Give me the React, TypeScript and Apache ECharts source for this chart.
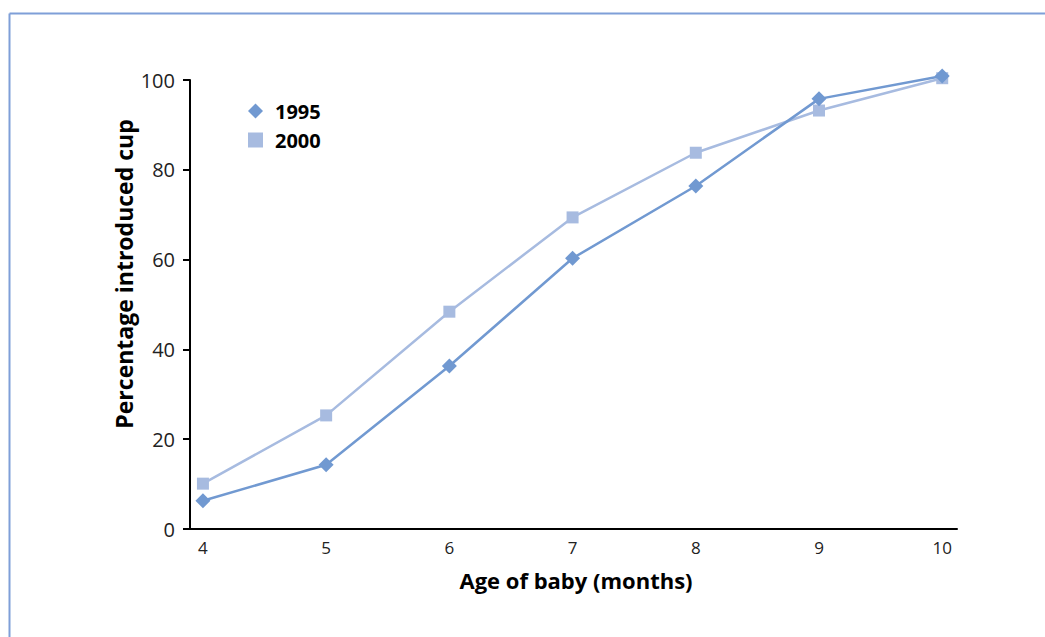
import React, { useEffect, useRef } from "react";
import * as echarts from "echarts";

const ages = [4, 5, 6, 7, 8, 9, 10];
const values1995 = [6.3, 14.3, 36.3, 60.3, 76.4, 95.8, 100.9];
const values2000 = [10.1, 25.3, 48.4, 69.4, 83.8, 93.2, 100.4];
const yTicks = [0, 20, 40, 60, 80, 100];
const seriesNames = ["1995", "2000"];
const xTitle = "Age of baby (months)";
const yTitle = "Percentage introduced cup";

const FONT = "'Open Sans', 'Noto Sans', sans-serif";
const C1995 = "#7199d1";
const C2000 = "#a7bbe0";
const FRAME = "#7f9fd8";

export default function App() {
  const ref = useRef<HTMLDivElement>(null);
  useEffect(() => {
    if (!ref.current) return;
    const chart = echarts.init(ref.current, null, { renderer: "svg" });
    chart.setOption({
      animation: false,
      backgroundColor: "#ffffff",
      textStyle: { fontFamily: FONT },
      grid: { left: 190, right: 88, top: 80, bottom: 108, containLabel: false },
      legend: {
        orient: "vertical",
        left: 248,
        top: 101,
        padding: 0,
        itemGap: 9,
        itemWidth: 15,
        itemHeight: 15,
        textStyle: {
          fontFamily: FONT,
          fontSize: 20,
          fontWeight: "bold",
          color: "#000",
          padding: [0, 0, 0, 7],
        },
        data: [
          { name: seriesNames[0], icon: "diamond" },
          { name: seriesNames[1], icon: "path://M2,2H12V12H2Z" },
        ],
      },
      xAxis: {
        type: "value",
        min: 3.895,
        max: 10.12,
        axisLine: { show: true, lineStyle: { color: "#000", width: 2 } },
        axisTick: { show: false },
        splitLine: { show: false },
        axisLabel: {
          customValues: ages,
          margin: 10,
          fontFamily: FONT,
          fontSize: 17,
          color: "#222",
        },
      },
      yAxis: {
        type: "value",
        min: 0,
        max: 100,
        interval: 20,
        axisLine: { show: true, lineStyle: { color: "#000", width: 2 } },
        axisTick: { show: true, length: 7, lineStyle: { color: "#000", width: 2 } },
        splitLine: { show: false },
        axisLabel: {
          customValues: yTicks,
          margin: 15,
          fontFamily: FONT,
          fontSize: 20,
          color: "#222",
        },
      },
      series: [
        {
          name: seriesNames[0],
          type: "line",
          clip: false,
          data: ages.map((a, i) => [a, values1995[i]]),
          symbol: "diamond",
          symbolSize: 15,
          itemStyle: { color: C1995 },
          lineStyle: { color: C1995, width: 2.5 },
          z: 3,
        },
        {
          name: seriesNames[1],
          type: "line",
          clip: false,
          data: ages.map((a, i) => [a, values2000[i]]),
          symbol: "rect",
          symbolSize: 12,
          itemStyle: { color: C2000 },
          lineStyle: { color: C2000, width: 2.5 },
          z: 2,
        },
      ],
      graphic: [
        {
          type: "line",
          shape: { x1: 9.5, y1: 13.5, x2: 1045, y2: 13.5 },
          style: { stroke: FRAME, lineWidth: 2 },
        },
        {
          type: "line",
          shape: { x1: 9.5, y1: 13.5, x2: 9.5, y2: 637 },
          style: { stroke: FRAME, lineWidth: 2 },
        },
        {
          type: "text",
          x: 576,
          y: 580,
          style: {
            text: xTitle,
            fontFamily: FONT,
            fontSize: 22,
            fontWeight: "bold",
            fill: "#000",
            align: "center",
            verticalAlign: "middle",
          },
        },
        {
          type: "text",
          x: 124,
          y: 274,
          rotation: Math.PI / 2,
          style: {
            text: yTitle,
            fontFamily: FONT,
            fontSize: 23,
            fontWeight: "bold",
            fill: "#000",
            align: "center",
            verticalAlign: "middle",
          },
        },
      ],
    });
    return () => chart.dispose();
  }, []);
  return (
    <div
      ref={ref}
      style={{ position: "fixed", left: 0, top: 0, width: 1045, height: 637 }}
    />
  );
}
